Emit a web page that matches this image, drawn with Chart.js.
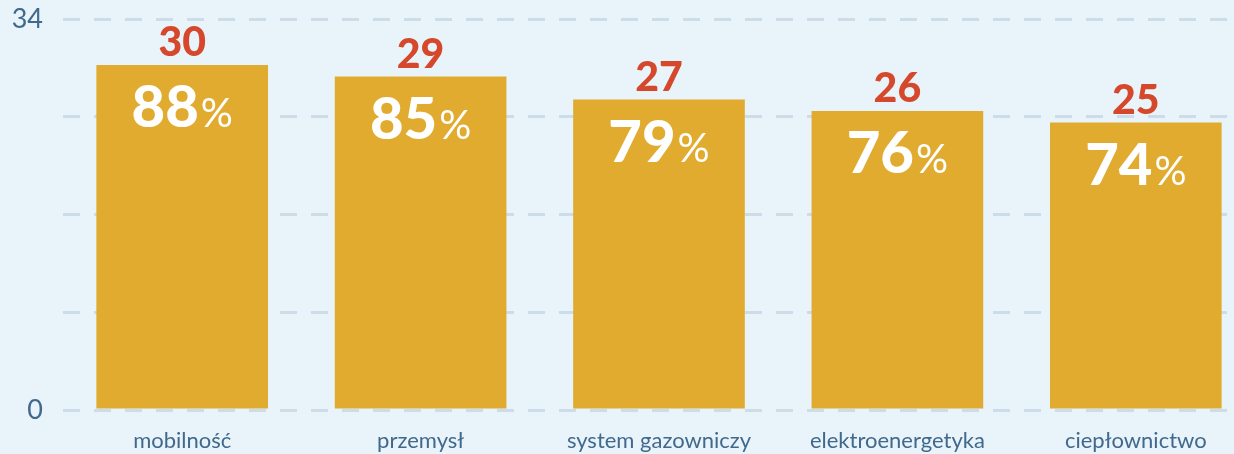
<!DOCTYPE html>
<html>
<head>
<meta charset="utf-8">
<script src="https://cdn.jsdelivr.net/npm/chart.js@4"></script>
<style>
  html, body { margin: 0; padding: 0; background: #E8F3FA; overflow: hidden; }
  #wrap { width: 1256px; height: 454px; }
</style>
</head>
<body>
<div id="wrap"><canvas id="myChart"></canvas></div>
<script>
// sectors and values
var sectors = ["mobilność", "przemysł", "system gazowniczy", "elektroenergetyka", "ciepłownictwo"];
var counts = [30, 29, 27, 26, 25];
var percents = [88, 85, 79, 76, 74];
var yMax = 34;

var textColor = "#41698C";
var redColor = "#D5482B";
var barColor = "#E0AB2E";

// draws the red number above each bar and the white percent inside it
var barLabels = {
  id: "barLabels",
  afterDatasetsDraw: function(chart) {
    var ctx = chart.ctx;
    var meta = chart.getDatasetMeta(0);
    ctx.save();
    ctx.textBaseline = "alphabetic";
    meta.data.forEach(function(bar, i) {
      ctx.fillStyle = redColor;
      ctx.textAlign = "center";
      ctx.font = "900 41px Lato";
      ctx.fillText(counts[i], bar.x, bar.y - 9);

      var big = "900 58px Lato";
      var small = "40px Lato";
      ctx.font = big;
      var w1 = ctx.measureText(String(percents[i])).width;
      ctx.font = small;
      var w2 = ctx.measureText("%").width;
      var x0 = bar.x - (w1 + w2 + 2) / 2;
      ctx.fillStyle = "#ffffff";
      ctx.textAlign = "left";
      ctx.font = big;
      ctx.fillText(String(percents[i]), x0, bar.y + 62);
      ctx.font = small;
      ctx.fillText("%", x0 + w1 + 2, bar.y + 62);
    });
    ctx.restore();
  }
};

var ctx = document.getElementById("myChart");
var myChart = new Chart(ctx, {
  type: "bar",
  data: {
    labels: sectors,
    datasets: [
      {
        data: counts,
        backgroundColor: barColor,
        borderWidth: 0,
        barPercentage: 0.72,
        categoryPercentage: 1
      }
    ]
  },
  options: {
    responsive: true,
    maintainAspectRatio: false,
    animation: false,
    layout: { padding: { top: 19, right: 1, left: 0, bottom: 0 } },
    plugins: {
      legend: { display: false },
      tooltip: { enabled: false }
    },
    scales: {
      x: {
        grid: { display: false },
        border: { display: false },
        ticks: {
          color: textColor,
          font: { family: "Lato", size: 22 },
          padding: 10
        },
        afterFit: function(scale) { scale.height = 44; }
      },
      y: {
        min: 0,
        max: yMax,
        border: { display: false, dash: [17, 14] },
        grid: {
          color: "#CCDDE9",
          lineWidth: 3,
          drawTicks: false
        },
        ticks: {
          stepSize: 8.5,
          color: textColor,
          font: { family: "Lato", size: 27 },
          padding: 20,
          callback: function(v) {
            return (v === 0 || v === yMax) ? v : "";
          }
        },
        afterFit: function(scale) {
          scale.width = 63;
          scale.paddingTop = 0;
          scale.paddingBottom = 0;
        }
      }
    }
  },
  plugins: [barLabels]
});
</script>
</body>
</html>
